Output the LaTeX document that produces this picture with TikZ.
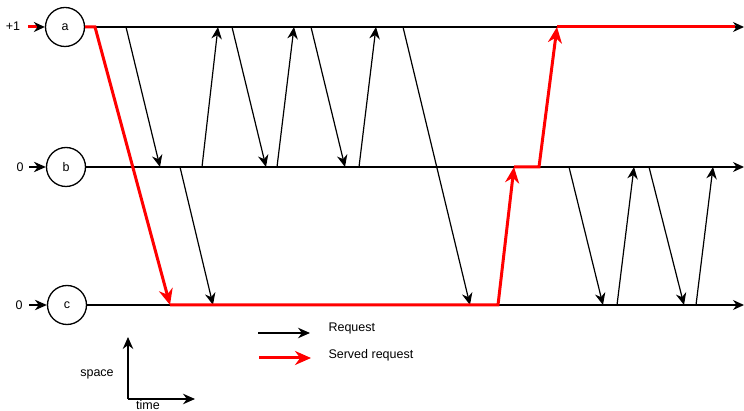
\documentclass[tikz,border=0pt]{standalone}
\usepackage{fontspec}
\setmainfont{Liberation Sans}
\usetikzlibrary{arrows.meta}

\begin{document}
\begin{tikzpicture}[
      x=1pt, y=-1pt,
      font=\fontsize{12.5}{14}\selectfont,
      proc/.style={draw, circle, line width=1.3pt, minimum size=39pt, inner sep=0pt},
      timeline/.style={-{Stealth[length=11pt, width=10pt]}, line width=1.4pt},
      req/.style={-{Stealth[length=12pt, width=10.5pt]}, line width=1.2pt},
      served/.style={-{Stealth[length=16pt, width=14pt]}, line width=3pt, color=red},
      servedline/.style={line width=3pt, color=red, line join=miter}
  ]
    \useasboundingbox (0,0) rectangle (744,411);

    % processes
    \node[proc] (a) at (65,27)  {a};
    \node[proc] (b) at (66,167) {b};
    \node[proc] (c) at (67,305) {c};

    \node (la) at (13,26)  {+1};
    \node (lb) at (20,167) {0};
    \node (lc) at (19,305) {0};

    \coordinate (ain) at (28,27);
    \coordinate (bin) at (29,167);
    \coordinate (cin) at (29,305);
    \draw[line width=3pt, red, -{Stealth[length=11pt, width=10pt, black]}] (ain) -- (a.west);
    \draw[req] (bin) -- (b.west);
    \draw[req] (cin) -- (c.west);

    % time lines
    \coordinate (aend) at (744,27);
    \coordinate (bend) at (744,167);
    \coordinate (cend) at (744,305);
    \draw[timeline] (a.east) -- (aend);
    \draw[timeline] (b.east) -- (bend);
    \draw[timeline] (c.east) -- (cend);

    % requests a -> b and b -> a
    \foreach \xs/\xe [count=\i] in {126/160, 232/266, 311/345} {
      \coordinate (ab\i) at (\xs,27);
      \coordinate (ab\i') at (\xe,167);
      \draw[req] (ab\i) -- (ab\i');
    }
    \foreach \xs/\xe [count=\i] in {202/218, 277/294, 359/376} {
      \coordinate (ba\i) at (\xs,167);
      \coordinate (ba\i') at (\xe,27);
      \draw[req] (ba\i) -- (ba\i');
    }
    % requests b -> c and c -> b
    \foreach \xs/\xe [count=\i] in {180/213, 569/603, 649/684} {
      \coordinate (bc\i) at (\xs,167);
      \coordinate (bc\i') at (\xe,305);
      \draw[req] (bc\i) -- (bc\i');
    }
    \foreach \xs/\xe [count=\i] in {617/634, 696/713} {
      \coordinate (cb\i) at (\xs,305);
      \coordinate (cb\i') at (\xe,167);
      \draw[req] (cb\i) -- (cb\i');
    }
    % request a -> c
    \coordinate (ac) at (403,27);
    \coordinate (ac') at (470,305);
    \draw[req] (ac) -- (ac');

    % served request path
    \coordinate (r1) at (95,27);
    \coordinate (r2) at (170,305);
    \coordinate (r3) at (498,305);
    \coordinate (r4) at (514,167);
    \coordinate (r5) at (539,167);
    \coordinate (r6) at (557,27);
    \coordinate (r7) at (735,27);
    \draw[served, line join=miter] (a.east) -- (r1) -- (r2);
    \draw[served, line join=miter] (r2) -- (r3) -- (r4);
    \draw[served, line join=miter] (r4) -- (r5) -- (r6);
    \draw[servedline] (r6) -- (r7);

    % legend
    \coordinate (lq) at (258,333);
    \coordinate (lq') at (310,333);
    \coordinate (ls) at (259,358);
    \coordinate (ls') at (311,358);
    \draw[req] (lq) -- (lq');
    \draw[served] (ls) -- (ls');
    \node[anchor=west] (lreq) at (325,328) {Request};
    \node[anchor=west] (lsrv) at (325,355) {Served request};

    % axes
    \coordinate (o) at (128,399);
    \coordinate (oy) at (128,337);
    \coordinate (ox) at (195,399);
    \draw[req] (o) -- (oy);
    \draw[req] (o) -- (ox);
    \node (space) at (97,374) {space};
    \node (time)  at (148,405) {time};
\end{tikzpicture}
\end{document}
